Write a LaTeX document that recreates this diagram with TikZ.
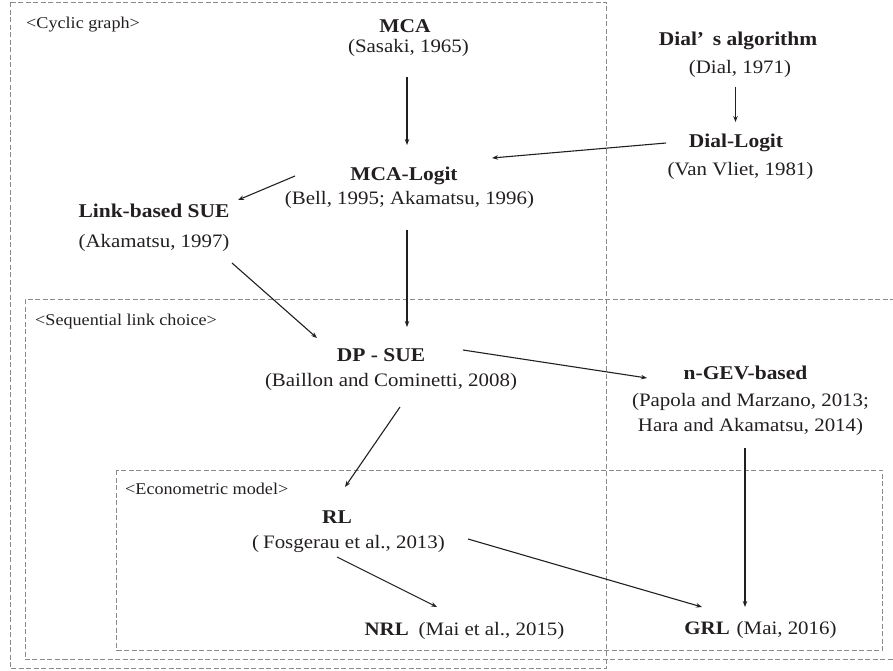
\documentclass[tikz,border=0pt]{standalone}
\usepackage{fontspec}
\setmainfont[FakeStretch=1.1]{Liberation Serif}
\usetikzlibrary{arrows.meta}
\definecolor{ink}{HTML}{231F20}
\definecolor{frame}{HTML}{8A8A8A}

\begin{document}
\begin{tikzpicture}[x=1pt,y=-1pt,
  ttl/.style={anchor=base, inner sep=0pt, text=ink, font=\fontsize{19.5}{23}\selectfont\bfseries},
  ref/.style={anchor=base, inner sep=0pt, text=ink, font=\fontsize{19}{25}\selectfont, align=center},
  grp/.style={anchor=base west, inner sep=0pt, text=ink, font=\fontsize{16.5}{19}\selectfont},
  zone/.style={draw=frame, line width=1pt, dash pattern=on 5pt off 2.5pt},
  link/.style={draw=ink, line width=1.1pt, -{Stealth[length=6pt,width=4.5pt]}}]
\useasboundingbox (0,0) rectangle (893,670);

% nested groups of methods
\draw[zone] (10,2) rectangle (606.5,668.3);
\draw[zone] (895,299.3) -- (25,299.3) -- (25,659.3) -- (895,659.3);
\draw[zone] (116.7,470) rectangle (882.7,650);

\node[grp] (gcyc) at (26,28) {<Cyclic graph>};
\node[grp] (gseq) at (35,325) {<Sequential link choice>};
\node[grp] (geco) at (125,494) {<Econometric model>};

% methods and their references
\node[ttl] (mca) at (405,32) {MCA};
\node[ref] (mcacite) at (408.5,52) {(Sasaki, 1965)};
\node[ttl] (dial) at (738,45) {Dial’\hspace{0.45em}s algorithm};
\node[ref] (dialcite) at (740,73.5) {(Dial, 1971)};
\node[ttl] (diallogit) at (736,147) {Dial-Logit};
\node[ref] (diallogitcite) at (740.5,175) {(Van Vliet, 1981)};
\node[ttl] (mcalogit) at (404,180) {MCA-Logit};
\node[ref] (mcalogitcite) at (409.5,204) {(Bell, 1995; Akamatsu, 1996)};
\node[ttl] (linksue) at (154,217) {Link-based SUE};
\node[ref] (linksuecite) at (154,247) {(Akamatsu, 1997)};
\node[ttl] (dpsue) at (381,361) {DP - SUE};
\node[ref] (dpsuecite) at (391,386.5) {(Baillon and Cominetti, 2008)};
\node[ttl] (ngev) at (745.5,379) {n-GEV-based};
\node[ref] (ngevcite) at (750.5,431.5) {(Papola and Marzano, 2013;\\ Hara and Akamatsu, 2014)};
\node[ttl] (rl) at (337,523) {RL};
\node[ref] (rlcite) at (348.5,548) {(\hspace{4pt}Fosgerau et al., 2013)};
\node[ref] (nrl) at (464.5,635) {\textbf{NRL}\hspace{10pt}(Mai et al., 2015)};
\node[ref] (grl) at (760.5,634) {\textbf{GRL}\hspace{7pt}(Mai, 2016)};

% lineage
\draw[link] ([shift={(-1.5,25)}]mcacite.base) -- ([shift={(3,-35)}]mcalogit.base);
\draw[link] ([shift={(-4.5,13.5)}]dialcite.base) -- ([shift={(-0.5,-25)}]diallogit.base);
\draw[link] ([shift={(-70,-4)}]diallogit.base) -- ([shift={(88,-22)}]mcalogit.base);
\draw[link] ([shift={(-109,-4)}]mcalogit.base) -- ([shift={(84,-17)}]linksue.base);
\draw[link] ([shift={(-2.5,26)}]mcalogitcite.base) -- ([shift={(26,-34)}]dpsue.base);
\draw[link] ([shift={(78,16)}]linksuecite.base) -- ([shift={(-64,-23)}]dpsue.base);
\draw[link] ([shift={(82,-11)}]dpsue.base) -- ([shift={(-98.5,-1)}]ngev.base);
\draw[link] ([shift={(9,20.5)}]dpsuecite.base) -- ([shift={(8,-36)}]rl.base);
\draw[link] ([shift={(-5.5,16.5)}]ngevcite.base) -- ([shift={(-15.5,-27)}]grl.base);
\draw[link] ([shift={(-11.5,9)}]rlcite.base) -- ([shift={(-27.5,-28)}]nrl.base);
\draw[link] ([shift={(119.5,-9)}]rlcite.base) -- ([shift={(-58.5,-27)}]grl.base);
\end{tikzpicture}
\end{document}
